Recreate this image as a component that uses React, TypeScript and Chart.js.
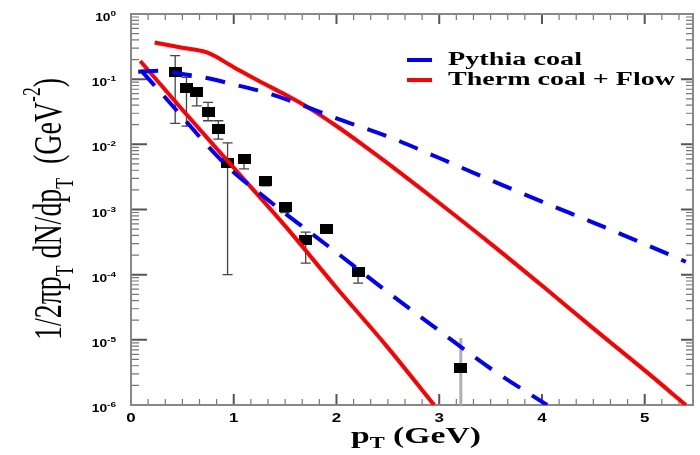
import React, { useEffect, useRef } from "react";
import { Chart, registerables } from "chart.js";

Chart.register(...registerables);

// ---- Data ----
const dataX = [0.43, 0.54, 0.64, 0.75, 0.85, 0.94, 1.1, 1.31, 1.5, 1.7, 1.9, 2.21, 3.21];
const dataY = [0.127, 0.072, 0.064, 0.031, 0.0174, 0.0052, 0.0059, 0.0027, 0.0011, 3.4e-4, 5.0e-4, 1.1e-4, 3.7e-6];
const errHi = [0.23, 0.107, 0.064, 0.044, 0.023, 0.0105, 0.0066, 0.0031, 0.00125, 4.5e-4, 5.6e-4, 1.25e-4, 1.07e-5];
const errLo = [0.021, 0.019, 0.039, 0.023, 0.012, 1e-4, 0.0042, 0.0023, 0.0009, 1.5e-4, 4.3e-4, 7.4e-5, 1e-6];

const pythiaUpperX = [0.07, 0.3, 0.5, 0.7, 1.0, 1.3, 1.6, 2.0, 2.5, 3.0, 3.5, 4.0, 4.5, 5.0, 5.4];
const pythiaUpperY = [0.13, 0.135, 0.12, 0.107, 0.083, 0.063, 0.0437, 0.0251, 0.0132, 0.00617, 0.00282, 0.00132, 6.3e-4, 2.95e-4, 1.58e-4];

const pythiaLowerX = [0.1, 0.3, 0.5, 0.75, 1.0, 1.25, 1.5, 1.75, 2.0, 2.5, 3.0, 3.5, 4.05];
const pythiaLowerY = [0.135, 0.06, 0.0263, 0.00933, 0.00372, 0.00178, 8.7e-4, 4.37e-4, 2.19e-4, 5.37e-5, 1.38e-5, 3.63e-6, 1.0e-6];

const thermUpperX = [0.23, 0.5, 0.74, 1.0, 1.25, 1.5, 1.75, 2.0, 2.25, 2.5, 3.0, 3.5, 4.0, 4.5, 5.0, 5.4];
const thermUpperY = [0.366, 0.304, 0.257, 0.153, 0.093, 0.058, 0.0347, 0.0191, 0.01, 5.1e-3, 1.26e-3, 3.0e-4, 6.8e-5, 1.5e-5, 3.4e-6, 1.0e-6];

const thermLowerX = [0.09, 0.5, 1.0, 1.5, 2.0, 2.5, 2.95];
const thermLowerY = [0.19, 0.0339, 0.00437, 5.6e-4, 6.3e-5, 7.6e-6, 1.0e-6];

const xTickLabels = ["0", "1", "2", "3", "4", "5"];
const yTickExponents = ["-6", "-5", "-4", "-3", "-2", "-1", "0"];
const legendLabels = ["Pythia coal", "Therm coal + Flow"];

const BLUE = "#0000ff";
const RED = "#ff0000";

type Part = { t: string; font: string; dy: number };

function partsWidth(ctx: CanvasRenderingContext2D, parts: Part[]) {
  let w = 0;
  for (const p of parts) {
    ctx.font = p.font;
    w += ctx.measureText(p.t).width;
  }
  return w;
}

function drawParts(ctx: CanvasRenderingContext2D, parts: Part[]) {
  let cx = 0;
  for (const p of parts) {
    ctx.font = p.font;
    ctx.fillText(p.t, cx, p.dy);
    cx += ctx.measureText(p.t).width;
  }
}

const toXY = (xs: number[], ys: number[]) => xs.map((x, i) => ({ x, y: ys[i] }));

const framePlugin = {
  id: "frameAxes",
  beforeDatasetsDraw(chart: any) {
    const { ctx, chartArea: a, scales } = chart;
    const xs = scales.x;
    const ys = scales.y;
    ctx.save();
    // y ticks
    for (let e = -6; e <= 0; e++) {
      for (let k = 1; k <= 9; k++) {
        if (e === 0 && k > 1) break;
        const v = k * Math.pow(10, e);
        const py = ys.getPixelForValue(v);
        const major = k === 1;
        ctx.strokeStyle = major ? "#555" : "#777";
        ctx.lineWidth = major ? 2 : 1.2;
        ctx.beginPath();
        ctx.moveTo(a.left, py);
        ctx.lineTo(a.left + (major ? 16 : 8), py);
        ctx.moveTo(a.right, py);
        ctx.lineTo(a.right - (major ? 12 : 7), py);
        ctx.stroke();
      }
    }
    // x ticks every 1/6
    for (let i = 0; i <= 60; i++) {
      const v = i / 6;
      if (v > xs.max) break;
      const px = xs.getPixelForValue(v);
      const major = i % 6 === 0;
      ctx.strokeStyle = major ? "#555" : "#777";
      ctx.lineWidth = major ? 2 : 1.2;
      ctx.beginPath();
      ctx.moveTo(px, a.bottom);
      ctx.lineTo(px, a.bottom - (major ? 11 : 6));
      ctx.moveTo(px, a.top);
      ctx.lineTo(px, a.top + (major ? 10 : 6));
      ctx.stroke();
    }
    // frame
    ctx.strokeStyle = "#888";
    ctx.lineWidth = 2;
    ctx.strokeRect(a.left, a.top, a.right - a.left, a.bottom - a.top);

    // error bars
    const n = dataX.length;
    for (let i = 0; i < n; i++) {
      const px = xs.getPixelForValue(dataX[i]);
      const yt = ys.getPixelForValue(errHi[i]);
      const yb = Math.min(ys.getPixelForValue(errLo[i]), a.bottom);
      const last = i === n - 1;
      ctx.strokeStyle = last ? "#b0b0b0" : "#444";
      ctx.lineWidth = last ? 3 : 1.3;
      ctx.beginPath();
      ctx.moveTo(px, yt);
      ctx.lineTo(px, yb);
      if (!last) {
        ctx.moveTo(px - 5, yt);
        ctx.lineTo(px + 5, yt);
        ctx.moveTo(px - 5, yb);
        ctx.lineTo(px + 5, yb);
      }
      ctx.stroke();
    }
    ctx.restore();
  },
  afterDraw(chart: any) {
    const { ctx, scales } = chart;
    const xs = scales.x;
    const ys = scales.y;
    ctx.save();
    ctx.fillStyle = "#000";
    ctx.textBaseline = "alphabetic";
    ctx.textAlign = "left";

    // y tick labels 10^n
    const tickSx = 1.25;
    yTickExponents.forEach((ex) => {
      const py = ys.getPixelForValue(Math.pow(10, Number(ex)));
      const parts: Part[] = [
        { t: "10", font: "bold 11px 'Liberation Sans'", dy: 0 },
        { t: ex, font: "bold 8px 'Liberation Sans'", dy: -5 },
      ];
      const w = partsWidth(ctx, parts) * tickSx;
      ctx.save();
      ctx.translate(116 - w, py + 7);
      ctx.scale(tickSx, 1);
      drawParts(ctx, parts);
      ctx.restore();
    });

    // x tick labels
    xTickLabels.forEach((lab) => {
      const px = xs.getPixelForValue(Number(lab));
      ctx.save();
      ctx.font = "bold 13px 'Liberation Sans'";
      const w = ctx.measureText(lab).width * 1.3;
      ctx.translate(px - w / 2, 422);
      ctx.scale(1.3, 1);
      ctx.fillText(lab, 0, 0);
      ctx.restore();
    });

    // x title
    const xt: Part[] = [
      { t: "p", font: "bold 24px 'Liberation Serif'", dy: 0 },
      { t: "T", font: "bold 16px 'Liberation Serif'", dy: 5 },
      { t: " (GeV)", font: "bold 24px 'Liberation Serif'", dy: 0 },
    ];
    {
      const w = partsWidth(ctx, xt);
      const sx = 130 / w;
      ctx.save();
      ctx.translate(351, 443);
      ctx.scale(sx, 1);
      drawParts(ctx, xt);
      ctx.restore();
    }

    // y title (rotated)
    const yt: Part[] = [
      { t: "1/2\u03c0p", font: "27px 'Liberation Serif'", dy: 0 },
      { t: "T", font: "17px 'Liberation Serif'", dy: 8 },
      { t: " dN/dp", font: "27px 'Liberation Serif'", dy: 0 },
      { t: "T", font: "17px 'Liberation Serif'", dy: 8 },
      { t: "  (GeV", font: "27px 'Liberation Serif'", dy: 0 },
      { t: "-2", font: "17px 'Liberation Serif'", dy: -14 },
      { t: ")", font: "27px 'Liberation Serif'", dy: 0 },
    ];
    {
      const w = partsWidth(ctx, yt);
      const sx = 262 / w;
      ctx.save();
      ctx.translate(61, 340);
      ctx.rotate(-Math.PI / 2);
      ctx.scale(sx, 1.5);
      drawParts(ctx, yt);
      ctx.restore();
    }

    // legend
    const colors = [BLUE, RED];
    const widths = [134, 227];
    const lineY = [60, 80];
    const baseY = [65, 85];
    legendLabels.forEach((lab, i) => {
      ctx.save();
      ctx.strokeStyle = colors[i];
      ctx.lineWidth = 4;
      ctx.beginPath();
      ctx.moveTo(407, lineY[i]);
      ctx.lineTo(432, lineY[i]);
      ctx.stroke();
      ctx.font = "bold 18px 'Liberation Serif'";
      const w = ctx.measureText(lab).width;
      ctx.translate(448, baseY[i]);
      ctx.scale(widths[i] / w, 1);
      ctx.fillText(lab, 0, 0);
      ctx.restore();
    });
    ctx.restore();
  },
};

export default function App() {
  const ref = useRef<HTMLCanvasElement>(null);
  useEffect(() => {
    document.body.style.margin = "0";
    const canvas = ref.current!;
    const marker = document.createElement("canvas");
    marker.width = 13;
    marker.height = 10;
    const mctx = marker.getContext("2d")!;
    mctx.fillStyle = "#000";
    mctx.fillRect(0, 0, 13, 10);

    const lineDs = (label: string, xs: number[], ys: number[], color: string, dashed: boolean) => ({
      label,
      data: toXY(xs, ys),
      showLine: true,
      borderColor: color,
      backgroundColor: color,
      borderWidth: 4,
      borderDash: dashed ? [20, 14] : [],
      pointRadius: 0,
      cubicInterpolationMode: "monotone" as const,
      fill: false,
    });

    const chart = new Chart(canvas, {
      type: "scatter",
      data: {
        datasets: [
          lineDs("Pythia coal", pythiaUpperX, pythiaUpperY, BLUE, true),
          lineDs("Pythia coal (low)", pythiaLowerX, pythiaLowerY, BLUE, true),
          lineDs("Therm coal + Flow", thermUpperX, thermUpperY, RED, false),
          lineDs("Therm coal + Flow (low)", thermLowerX, thermLowerY, RED, false),
          {
            label: "data",
            data: toXY(dataX, dataY),
            pointStyle: marker,
            pointRadius: 6,
            showLine: false,
          } as any,
        ],
      },
      options: {
        animation: false,
        responsive: false,
        devicePixelRatio: 1,
        layout: { padding: { left: 131, right: 7, top: 14, bottom: 50 } },
        scales: {
          x: { type: "linear", min: 0, max: 5.47, display: false },
          y: { type: "logarithmic", min: 1e-6, max: 1, display: false },
        },
        plugins: {
          legend: { display: false },
          tooltip: { enabled: false },
        },
      },
      plugins: [framePlugin],
    });
    return () => chart.destroy();
  }, []);
  return (
    <div style={{ width: 700, height: 455 }}>
      <canvas ref={ref} width={700} height={455} style={{ display: "block" }} />
    </div>
  );
}
